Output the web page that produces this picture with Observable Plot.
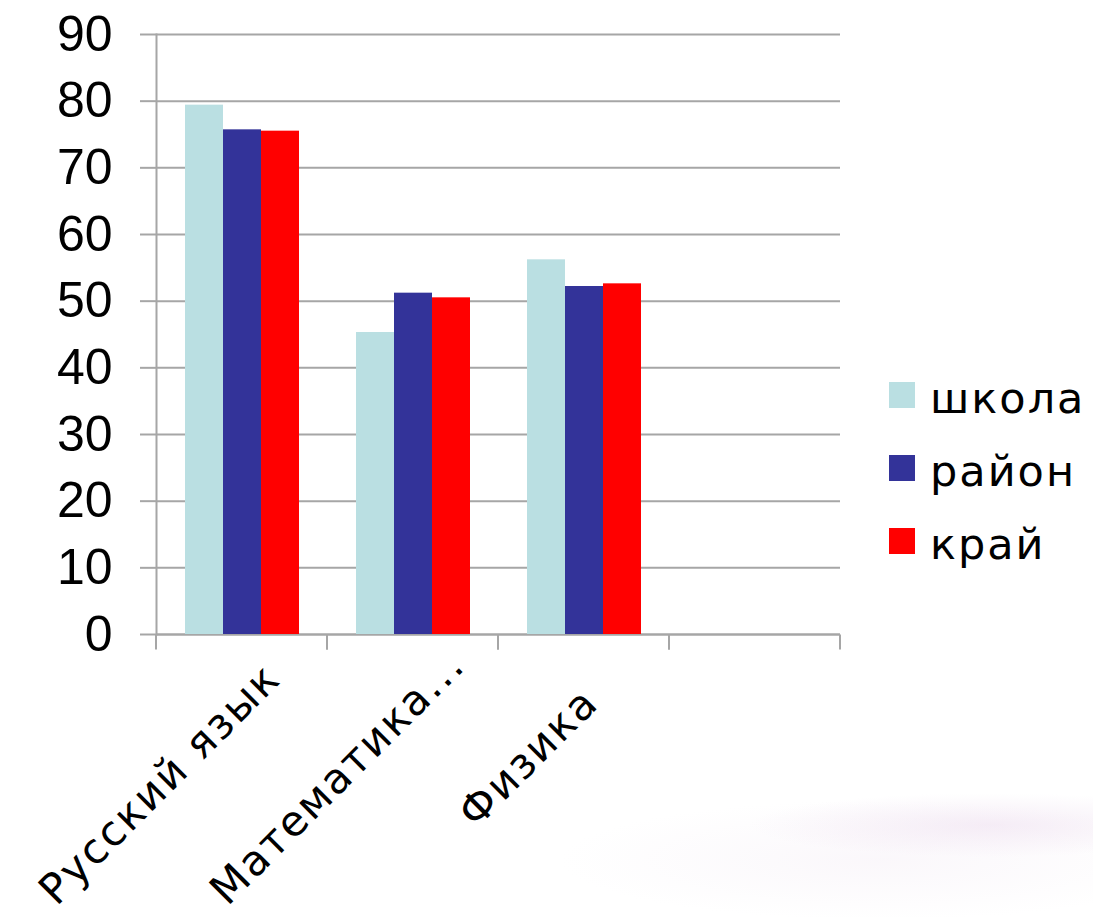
<!DOCTYPE html>
<html>
<head>
<meta charset="utf-8">
<script src="https://cdn.jsdelivr.net/npm/d3@7"></script>
<script src="https://cdn.jsdelivr.net/npm/@observablehq/plot@0.6"></script>
<style>
  html, body { margin: 0; padding: 0; background: #fff; }
  #wrap {
    position: relative; width: 1093px; height: 918px; overflow: hidden;
    background:
      radial-gradient(ellipse 240px 32px at 990px 825px, rgba(234, 216, 236, 0.45), rgba(255,255,255,0) 100%),
      radial-gradient(ellipse 320px 60px at 880px 860px, rgba(246, 240, 247, 0.5), rgba(255,255,255,0) 100%),
      #fff;
  }
  #legend {
    position: absolute; left: 889px; top: 358px;
    font-family: "DejaVu Sans", sans-serif; font-size: 43px; color: #000;
  }
  .item { display: flex; align-items: center; height: 73px; }
  .sw { width: 26px; height: 26px; margin-right: 15px; flex: none; }
  .lbl { position: relative; top: 3px; letter-spacing: 2px; }
</style>
</head>
<body>
<div id="wrap"></div>
<script>
// ---- data ----
const categories = ["Русский язык", "Математика...", "Физика", ""];
const series = ["школа", "район", "край"];
const seriesColors = ["#badfe2", "#333399", "#ff0000"];
const shkola = [79.4, 45.3, 56.2];
const raion = [75.7, 51.2, 52.2];
const krai = [75.5, 50.5, 52.6];
const yTicks = [0, 10, 20, 30, 40, 50, 60, 70, 80, 90];

const valuesBySeries = [shkola, raion, krai];
// every category (including the empty fourth slot) gets a row; missing values stay null
const rows = categories.flatMap((c, i) =>
  series.map((s, j) => ({category: c, series: s, value: valuesBySeries[j][i] ?? null}))
);

const gray = "#a6a6a6";

// small tick marks below the category axis at each category boundary
function boundaryTicks(index, scales, values, dimensions, context, next) {
  const g = next(index, scales, values, dimensions, context);
  const {marginLeft, marginRight, width} = dimensions;
  const y0 = scales.y(0);
  for (const x of [marginLeft, width - marginRight]) {
    d3.select(g).append("line")
      .attr("x1", x).attr("x2", x)
      .attr("y1", y0).attr("y2", y0 + 15)
      .attr("stroke", gray).attr("stroke-width", 2);
  }
  return g;
}

const chart = Plot.plot({
  width: 1093,
  height: 918,
  marginTop: 34,
  marginRight: 253,
  marginBottom: 284,
  marginLeft: 155,
  style: {background: "transparent", fontFamily: "'DejaVu Sans', sans-serif", color: "#000", overflow: "visible"},
  facet: {data: rows, x: "category"},
  fx: {domain: categories, padding: 0},
  x: {domain: series, paddingInner: 0, paddingOuter: 0.73, axis: null},
  y: {domain: [0, 90]},
  color: {domain: series, range: seriesColors},
  marks: [
    Plot.ruleY(yTicks, {stroke: gray, strokeWidth: 2}),
    Plot.ruleY([0], {stroke: gray, strokeWidth: 2, render: boundaryTicks}),
    Plot.frame({anchor: "left", facetAnchor: "left", stroke: gray, strokeWidth: 2}),
    Plot.barY(rows, {x: "series", y: "value", fill: "series"}),
    Plot.axisY({
      ticks: yTicks, tickSize: 16, tickPadding: 28,
      stroke: gray, strokeWidth: 2, strokeOpacity: 1,
      fill: "#000", fontSize: 50, fontFamily: "'Liberation Sans', sans-serif", label: null
    }),
    Plot.axisFx({
      anchor: "bottom", tickSize: 0, tickPadding: 61, tickRotate: -45, dx: 7,
      fill: "#000", fontSize: 42, label: null
    })
  ]
});

const wrap = document.getElementById("wrap");
wrap.appendChild(chart);

// category labels: a little letter spacing, and keep them inside the picture
const wrapBox = wrap.getBoundingClientRect();
chart.querySelectorAll('g[aria-label="fx-axis tick label"] text').forEach((t) => {
  t.style.letterSpacing = "2px";
  const b = t.getBoundingClientRect();
  const over = b.bottom - wrapBox.top - 914;
  if (over > 0) {
    t.setAttribute("transform", `translate(${over},${-over}) ` + (t.getAttribute("transform") || ""));
  }
});

// legend
const legend = document.createElement("div");
legend.id = "legend";
series.forEach((s, i) => {
  const item = document.createElement("div");
  item.className = "item";
  const sw = document.createElement("span");
  sw.className = "sw";
  sw.style.background = seriesColors[i];
  const lbl = document.createElement("span");
  lbl.className = "lbl";
  lbl.textContent = s;
  item.appendChild(sw);
  item.appendChild(lbl);
  legend.appendChild(item);
});
wrap.appendChild(legend);
</script>
</body>
</html>
